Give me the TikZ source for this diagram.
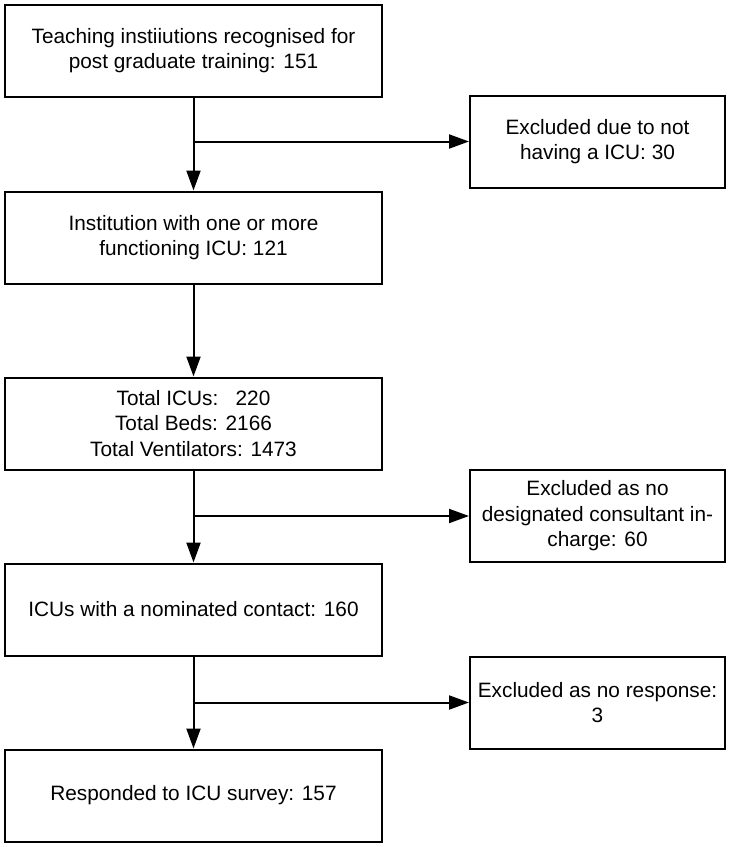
\documentclass[tikz,border=0pt]{standalone}
\usepackage{fontspec}
\setmainfont{Liberation Sans}
\usetikzlibrary{arrows.meta}
\begin{document}
\begin{tikzpicture}[x=1pt,y=-1pt,
 box/.style={draw, line width=2pt, minimum width=377pt, minimum height=92pt, align=center, font=\fontsize{20.8}{25.5}\selectfont, inner sep=0pt},
 rbox/.style={box, minimum width=255pt},
 conn/.style={line width=2pt},
 arr/.style={conn, -{Triangle[length=20pt,width=14pt]}}]
\useasboundingbox (0,0) rectangle (731,847);
\node[box] (b1) at (193.5,50.5) {Teaching instiiutions recognised for\\post graduate training: 151};
\node[rbox] (r1) at (597.5,141.5) {Excluded due to not\\having a ICU: 30};
\node[box] (b2) at (193.5,237.5) {Institution with one or more\\functioning ICU: 121};
\node[box] (b3) at (193.5,423.5) {Total ICUs:\ \ \ 220\\Total Beds: 2166\\Total Ventilators: 1473};
\node[rbox] (r2) at (597.5,516) {Excluded as no\\designated consultant in-\\charge: 60};
\node[box] (b4) at (193.5,609.5) {ICUs with a nominated contact: 160};
\node[rbox] (r3) at (597.5,702.5) {Excluded as no response:\\3};
\node[box] (b5) at (193.5,795.5) {Responded to ICU survey: 157};
\draw[arr] (b1.south) -- (b2.north);
\coordinate (j1) at (b1.south |- r1.west);
\draw[arr] (j1) -- (r1.west);
\draw[arr] (b2.south) -- (b3.north);
\draw[arr] (b3.south) -- (b4.north);
\coordinate (j2) at (b3.south |- r2.west);
\draw[arr] (j2) -- (r2.west);
\draw[arr] (b4.south) -- (b5.north);
\coordinate (j3) at (b4.south |- r3.west);
\draw[arr] (j3) -- (r3.west);
\end{tikzpicture}
\end{document}
